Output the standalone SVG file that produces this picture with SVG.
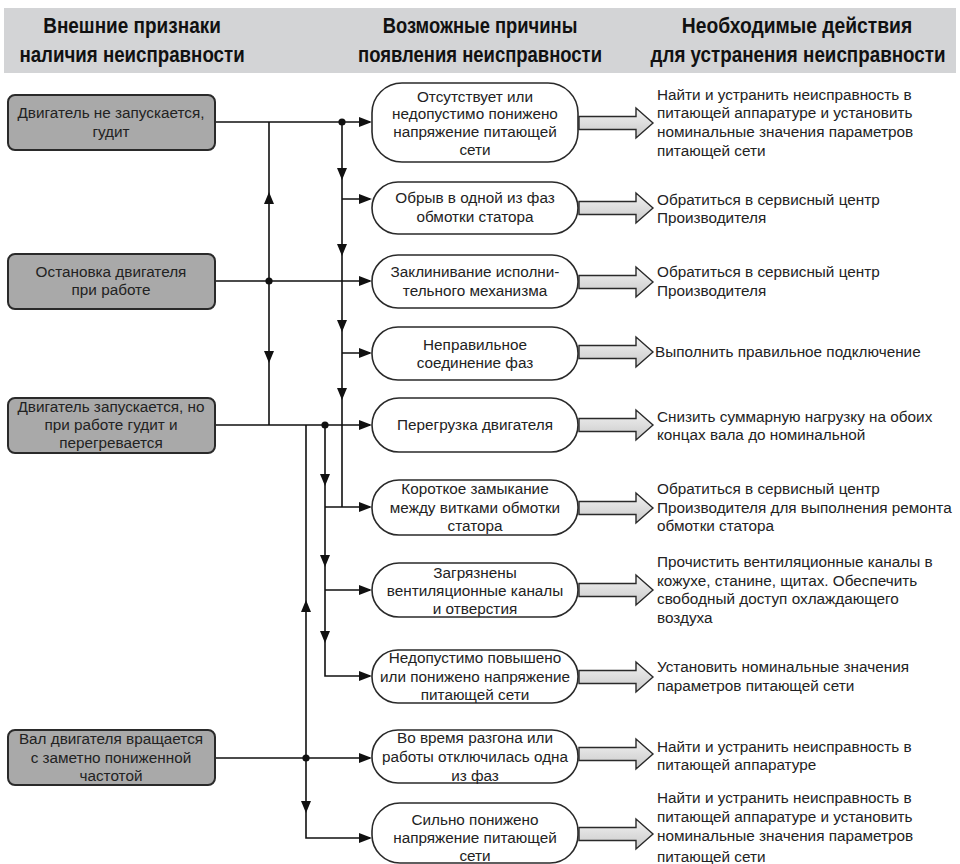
<svg xmlns="http://www.w3.org/2000/svg" width="960" height="864" viewBox="0 0 960 864">
<style>
.hdr{font-family:"Liberation Sans",Arial,sans-serif;font-weight:bold;font-size:22px;fill:#111;text-anchor:middle}
.t{font-family:"Liberation Sans",Arial,sans-serif;font-size:15.3px;fill:#222}
.c{text-anchor:middle}
.sym{fill:#a9a9a9;stroke:#2a2a2a;stroke-width:2}
.cause{fill:#fff;stroke:#2a2a2a;stroke-width:1.6}
.ln{fill:none;stroke:#111;stroke-width:1.6}
.ah{fill:#111}
.big{fill:url(#bg);stroke:#2a2a2a;stroke-width:1.4}
</style>
<defs>
<linearGradient id="bg" x1="0" y1="0" x2="0" y2="1">
<stop offset="0" stop-color="#f2f2f2"/>
<stop offset="1" stop-color="#c9c9c9"/>
</linearGradient>
<path id="bigArrow" d="M579,-6.5 H636 V-15 L653,0 L636,15 V6.5 H579 Z"/>
<path id="aR" d="M0,0 L-13,-5 L-13,5 Z"/>
<path id="aD" d="M0,0 L-5,-12 L5,-12 Z"/>
<path id="aU" d="M0,0 L-5,12 L5,12 Z"/>
</defs>
<rect width="960" height="864" fill="#fff"/>

<g id="header">
<rect x="4" y="8" width="952" height="65" fill="#d3d4d6"/>
<text class="hdr" transform="translate(132,33) scale(0.85,1)" textLength="209" lengthAdjust="spacingAndGlyphs">Внешние признаки</text>
<text class="hdr" transform="translate(132,62) scale(0.85,1)" textLength="265" lengthAdjust="spacingAndGlyphs">наличия неисправности</text>
<text class="hdr" transform="translate(480,33) scale(0.85,1)" textLength="229" lengthAdjust="spacingAndGlyphs">Возможные причины</text>
<text class="hdr" transform="translate(480,62) scale(0.85,1)" textLength="287" lengthAdjust="spacingAndGlyphs">появления неисправности</text>
<text class="hdr" transform="translate(797,33) scale(0.85,1)" textLength="271" lengthAdjust="spacingAndGlyphs">Необходимые действия</text>
<text class="hdr" transform="translate(798,62) scale(0.85,1)" textLength="347" lengthAdjust="spacingAndGlyphs">для устранения неисправности</text>
</g>

<g id="connectors">
<path class="ln" d="M215,122 H370 M269,122 V425 M215,281 H370 M342,122 V507 M342,199 H370 M342,353 H370 M215,425 H370 M325,425 V676 H370 M325,507 H370 M325,590 H370 M306,425 V838 H370 M215,758 H370"/>
<circle class="ah" cx="342" cy="122" r="3.6"/>
<circle class="ah" cx="269" cy="281" r="3.6"/>
<circle class="ah" cx="325" cy="425" r="3.6"/>
<circle class="ah" cx="306" cy="758" r="3.6"/>
<use href="#aR" class="ah" x="372" y="122"/>
<use href="#aR" class="ah" x="372" y="199"/>
<use href="#aR" class="ah" x="372" y="281"/>
<use href="#aR" class="ah" x="372" y="353"/>
<use href="#aR" class="ah" x="372" y="425"/>
<use href="#aR" class="ah" x="372" y="507"/>
<use href="#aR" class="ah" x="372" y="590"/>
<use href="#aR" class="ah" x="372" y="676"/>
<use href="#aR" class="ah" x="372" y="758"/>
<use href="#aR" class="ah" x="372" y="838"/>
<use href="#aU" class="ah" x="269" y="192"/>
<use href="#aD" class="ah" x="269" y="363"/>
<use href="#aD" class="ah" x="342" y="180"/>
<use href="#aD" class="ah" x="342" y="256"/>
<use href="#aD" class="ah" x="342" y="332"/>
<use href="#aD" class="ah" x="342" y="400"/>
<use href="#aD" class="ah" x="325" y="486"/>
<use href="#aD" class="ah" x="325" y="567"/>
<use href="#aD" class="ah" x="325" y="643"/>
<use href="#aU" class="ah" x="306" y="600"/>
<use href="#aD" class="ah" x="306" y="813"/>
<use href="#bigArrow" class="big" y="123"/>
<use href="#bigArrow" class="big" y="208"/>
<use href="#bigArrow" class="big" y="282"/>
<use href="#bigArrow" class="big" y="352"/>
<use href="#bigArrow" class="big" y="425"/>
<use href="#bigArrow" class="big" y="508"/>
<use href="#bigArrow" class="big" y="590"/>
<use href="#bigArrow" class="big" y="677"/>
<use href="#bigArrow" class="big" y="754"/>
<use href="#bigArrow" class="big" y="834"/>
</g>

<g id="s1"><rect class="sym" x="8" y="95" width="207" height="55" rx="7"/>
<text class="t c" x="111" y="118">Двигатель не запускается,</text><text class="t c" x="111" y="137">гудит</text></g>
<g id="s2"><rect class="sym" x="8" y="254" width="207" height="55" rx="7"/>
<text class="t c" x="111" y="277">Остановка двигателя</text><text class="t c" x="111" y="295">при работе</text></g>
<g id="s3"><rect class="sym" x="8" y="398" width="207" height="55" rx="7"/>
<text class="t c" x="111" y="412">Двигатель запускается, но</text><text class="t c" x="111" y="430">при работе гудит и</text><text class="t c" x="111" y="448">перегревается</text></g>
<g id="s4"><rect class="sym" x="8" y="730" width="207" height="55" rx="7"/>
<text class="t c" x="111" y="744">Вал двигателя вращается</text><text class="t c" x="111" y="763">с заметно пониженной</text><text class="t c" x="111" y="781">частотой</text></g>

<g id="c1"><rect class="cause" x="372" y="83" width="206" height="79" rx="30"/>
<text class="t c" x="475" y="102">Отсутствует или</text><text class="t c" x="475" y="119">недопустимо понижено</text><text class="t c" x="475" y="137">напряжение питающей</text><text class="t c" x="475" y="155">сети</text></g>
<g id="c2"><rect class="cause" x="372" y="182" width="206" height="52" rx="26"/>
<text class="t c" x="475" y="203">Обрыв в одной из фаз</text><text class="t c" x="475" y="222">обмотки статора</text></g>
<g id="c3"><rect class="cause" x="372" y="255" width="206" height="53" rx="26"/>
<text class="t c" x="475" y="277">Заклинивание исполни-</text><text class="t c" x="475" y="296">тельного механизма</text></g>
<g id="c4"><rect class="cause" x="372" y="327" width="206" height="53" rx="26"/>
<text class="t c" x="475" y="350">Неправильное</text><text class="t c" x="475" y="368">соединение фаз</text></g>
<g id="c5"><rect class="cause" x="372" y="398" width="206" height="54" rx="27"/>
<text class="t c" x="475" y="430">Перегрузка двигателя</text></g>
<g id="c6"><rect class="cause" x="372" y="480" width="206" height="55" rx="27"/>
<text class="t c" x="475" y="494">Короткое замыкание</text><text class="t c" x="475" y="513">между витками обмотки</text><text class="t c" x="475" y="531">статора</text></g>
<g id="c7"><rect class="cause" x="372" y="563" width="206" height="54" rx="27"/>
<text class="t c" x="475" y="578">Загрязнены</text><text class="t c" x="475" y="596">вентиляционные каналы</text><text class="t c" x="475" y="614">и отверстия</text></g>
<g id="c8"><rect class="cause" x="372" y="650" width="206" height="53" rx="26"/>
<text class="t c" x="475" y="663">Недопустимо повышено</text><text class="t c" x="475" y="682">или понижено напряжение</text><text class="t c" x="475" y="700">питающей сети</text></g>
<g id="c9"><rect class="cause" x="372" y="730" width="206" height="53" rx="26"/>
<text class="t c" x="475" y="743">Во время разгона или</text><text class="t c" x="475" y="762">работы отключилась одна</text><text class="t c" x="475" y="781">из фаз</text></g>
<g id="c10"><rect class="cause" x="372" y="803" width="206" height="60" rx="28"/>
<text class="t c" x="475" y="825">Сильно понижено</text><text class="t c" x="475" y="843">напряжение питающей</text><text class="t c" x="475" y="861">сети</text></g>

<g id="a1"><text class="t" x="657" y="100">Найти и устранить неисправность в</text><text class="t" x="657" y="118">питающей аппаратуре и установить</text><text class="t" x="657" y="137">номинальные значения параметров</text><text class="t" x="657" y="156">питающей сети</text></g>
<g id="a2"><text class="t" x="657" y="205">Обратиться в сервисный центр</text><text class="t" x="657" y="223">Производителя</text></g>
<g id="a3"><text class="t" x="657" y="277">Обратиться в сервисный центр</text><text class="t" x="657" y="296">Производителя</text></g>
<g id="a4"><text class="t" x="655" y="357">Выполнить правильное подключение</text></g>
<g id="a5"><text class="t" x="657" y="422">Снизить суммарную нагрузку на обоих</text><text class="t" x="657" y="440">концах вала до номинальной</text></g>
<g id="a6"><text class="t" x="657" y="494">Обратиться в сервисный центр</text><text class="t" x="657" y="513">Производителя для выполнения ремонта</text><text class="t" x="657" y="531">обмотки статора</text></g>
<g id="a7"><text class="t" x="657" y="567">Прочистить вентиляционные каналы в</text><text class="t" x="657" y="586">кожухе, станине, щитах. Обеспечить</text><text class="t" x="657" y="604">свободный доступ охлаждающего</text><text class="t" x="657" y="623">воздуха</text></g>
<g id="a8"><text class="t" x="657" y="672">Установить номинальные значения</text><text class="t" x="657" y="691">параметров питающей сети</text></g>
<g id="a9"><text class="t" x="657" y="752">Найти и устранить неисправность в</text><text class="t" x="657" y="770">питающей аппаратуре</text></g>
<g id="a10"><text class="t" x="657" y="803">Найти и устранить неисправность в</text><text class="t" x="657" y="822">питающей аппаратуре и установить</text><text class="t" x="657" y="841">номинальные значения параметров</text><text class="t" x="657" y="862">питающей сети</text></g>
</svg>
